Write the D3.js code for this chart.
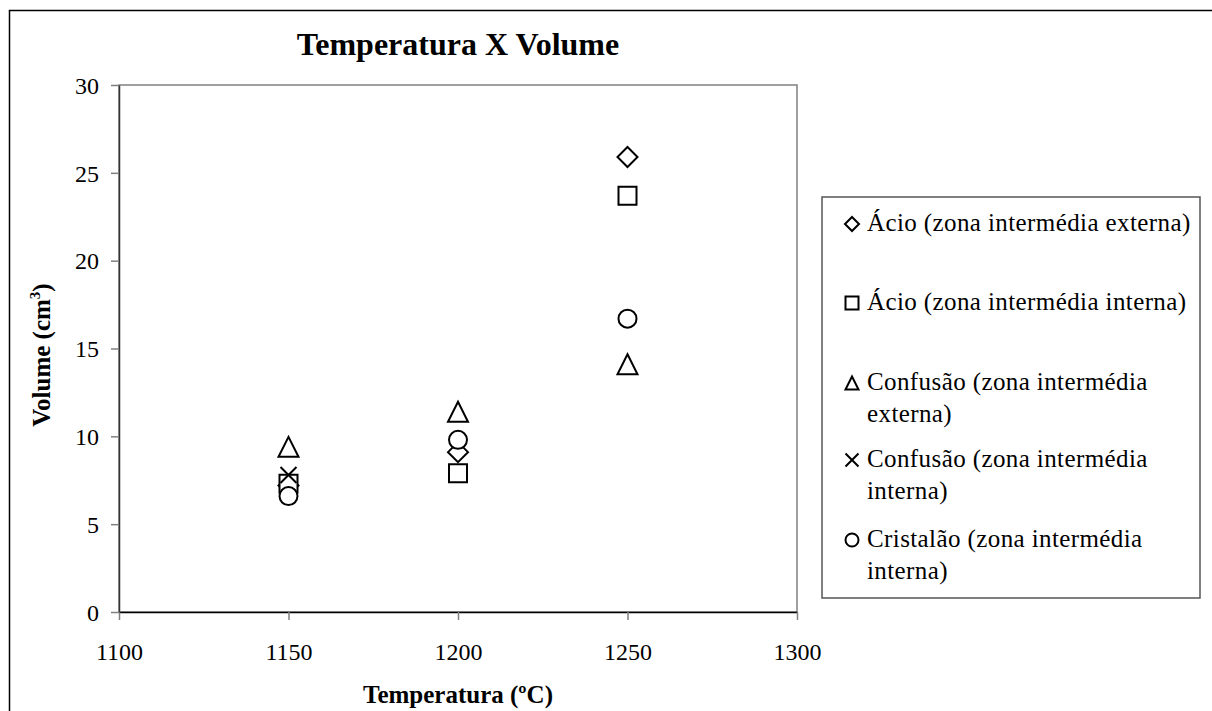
<!DOCTYPE html>
<html><head><meta charset="utf-8">
<script src="https://cdn.jsdelivr.net/npm/d3@7"></script>
<style>body{margin:0;background:#fff}svg{display:block}text{font-family:"Liberation Serif","Times New Roman",serif;fill:#000}</style>
</head><body><svg id="c" width="1212" height="711"></svg>
<script>
const temps = [1150, 1200, 1250];
const seriesNames = [
  ["Ácio (zona intermédia externa)"],
  ["Ácio (zona intermédia interna)"],
  ["Confusão (zona intermédia", "externa)"],
  ["Confusão (zona intermédia", "interna)"],
  ["Cristalão (zona intermédia", "interna)"]
];
const seriesSymbols = ["diamond", "square", "triangle", "cross", "circle"];
const acioExterna = [7.2, 9.1, 25.9];
const acioInterna = [7.3, 7.9, 23.7];
const confusaoExterna = [9.4, 11.4, 14.1];
const confusaoInterna = [7.8, null, null];
const cristalaoInterna = [6.6, 9.8, 16.7];
const seriesValues = [acioExterna, acioInterna, confusaoExterna, confusaoInterna, cristalaoInterna];
const xTicks = [1100, 1150, 1200, 1250, 1300];
const yTicks = [0, 5, 10, 15, 20, 25, 30];

const svg = d3.select("#c");
svg.append("rect").attr("x",9.5).attr("y",10.5).attr("width",1400).attr("height",900)
  .attr("fill","none").attr("stroke","#000").attr("stroke-width",1.5);

const x = d3.scaleLinear().domain([1100,1300]).range([119,797]);
const y = d3.scaleLinear().domain([0,30]).range([612,85]);

svg.append("rect").attr("x",119).attr("y",85).attr("width",797-119).attr("height",612-85)
  .attr("fill","none").attr("stroke","#808080").attr("stroke-width",1.5);

const xAxis = svg.append("g").attr("transform","translate(0,612)")
  .call(d3.axisBottom(x).tickValues(xTicks).tickFormat(d3.format("d")).tickSize(8).tickSizeOuter(0).tickPadding(23));
xAxis.attr("font-family",null);
xAxis.select(".domain").attr("stroke","#000").attr("stroke-width",1.5);
xAxis.selectAll(".tick line").attr("stroke","#808080").attr("stroke-width",1.5);
xAxis.selectAll("text").style("font-size","24px").attr("dy","0.71em");

const yAxis = svg.append("g").attr("transform","translate(119,0)")
  .call(d3.axisLeft(y).tickValues(yTicks).tickFormat(d3.format("d")).tickSize(8).tickSizeOuter(0).tickPadding(12));
yAxis.attr("font-family",null);
yAxis.select(".domain").attr("stroke","#333").attr("stroke-width",1.5);
yAxis.selectAll(".tick line").attr("stroke","#808080").attr("stroke-width",1.5);
yAxis.selectAll("text").style("font-size","24px").attr("dy","0.34em");

svg.append("text").attr("x",458).attr("y",55).attr("text-anchor","middle")
  .style("font-size","32px").style("font-weight","bold").text("Temperatura X Volume");
svg.append("text").attr("x",458).attr("y",703).attr("text-anchor","middle")
  .style("font-size","25px").style("font-weight","bold").text("Temperatura (ºC)");
const yt = svg.append("text").attr("transform","translate(50,355) rotate(-90)").attr("text-anchor","middle")
  .style("font-size","25px").style("font-weight","bold");
yt.append("tspan").text("Volume (cm");
yt.append("tspan").attr("dy","-10").style("font-size","15px").text("3");
yt.append("tspan").attr("dy","10").text(")");

function markerPath(type, s){
  const h = s/2;
  switch(type){
    case "diamond": return `M0,${-h}L${h},0L0,${h}L${-h},0Z`;
    case "square": return `M${-h},${-h}H${h}V${h}H${-h}Z`;
    case "triangle": return `M0,${-h}L${h},${h}L${-h},${h}Z`;
    case "cross": return `M${-h},${-h}L${h},${h}M${h},${-h}L${-h},${h}`;
    case "circle": return `M${h},0A${h},${h} 0 1,1 ${-h},0A${h},${h} 0 1,1 ${h},0Z`;
  }
}
const plotSizes = {diamond:20, square:18, triangle:20, cross:16, circle:18};

seriesValues.forEach((vals,i)=>{
  const t = seriesSymbols[i];
  svg.append("g").selectAll("path").data(temps.map((tv,j)=>({t:tv,v:vals[j]})).filter(d=>d.v!=null))
    .join("path")
    .attr("transform",d=>`translate(${x(d.t)},${y(d.v)})`)
    .attr("d",markerPath(t,plotSizes[t]))
    .attr("fill",t==="cross"?"none":"#fff").attr("stroke","#000").attr("stroke-width",2);
});

svg.append("rect").attr("x",822).attr("y",197).attr("width",378).attr("height",401)
  .attr("fill","#fff").attr("stroke","#555").attr("stroke-width",1.5);
const legY = [231, 310, 390, 467, 547];
const legendSizes = {diamond:14, square:13, triangle:13, cross:13, circle:13};
seriesNames.forEach((lines,i)=>{
  const t = seriesSymbols[i];
  const g = svg.append("g");
  g.append("path").attr("transform",`translate(852,${legY[i]-7})`)
    .attr("d",markerPath(t,legendSizes[t])).attr("fill","none").attr("stroke","#000").attr("stroke-width",2);
  lines.forEach((ln,k)=>{
    g.append("text").attr("x",867).attr("y",legY[i]+k*32).style("font-size","25px")
      .style("letter-spacing","0.4px").text(ln);
  });
});
</script></body></html>
